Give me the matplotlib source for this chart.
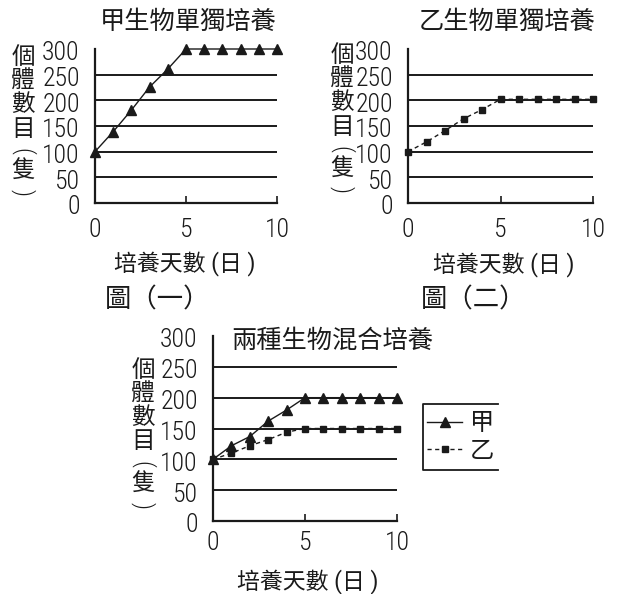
import numpy as np
import matplotlib
matplotlib.use('Agg')
import matplotlib.pyplot as plt
import matplotlib.transforms as mtransforms
from matplotlib.lines import Line2D

plt.rcParams['font.family'] = ['Noto Sans CJK TC', 'DejaVu Sans']

days = [0, 1, 2, 3, 4, 5, 6, 7, 8, 9, 10]
jia_alone = [100, 139, 181, 226, 261, 300, 300, 300, 300, 300, 300]
yi_alone = [100, 119, 141, 164, 182, 202, 202, 202, 202, 202, 202]
jia_mixed = [100, 122, 137, 162, 180, 200, 200, 200, 200, 200, 200]
yi_mixed = [100, 110, 122, 132, 144, 150, 150, 150, 150, 150, 150]

y_ticks = [0, 50, 100, 150, 200, 250, 300]
grid_levels = [50, 100, 150, 200, 250]
x_ticks = [0, 5, 10]

titles = ['甲生物單獨培養', '乙生物單獨培養', '兩種生物混合培養']
fig_labels = ['圖（一）', '圖（二）']
ylabel_chars = ['個', '體', '數', '目', '(', '隻', ')']
xlabel = '培養天數 (日 )'
legend_names = ['甲', '乙']

W, H = 617, 594
INK = '#1a1a1a'
NUM_FONT = ['Roboto Condensed', 'Roboto', 'DejaVu Sans']
MIX_FONT = ['Roboto', 'Noto Sans CJK TC']


def rect(x0, y0, x1, y1):
    return [x0 / W, 1 - y1 / H, (x1 - x0) / W, (y1 - y0) / H]


def fpos(x, y):
    return x / W, 1 - y / H


def style_axes(ax, xpad):
    ax.set_xlim(0, 10)
    ax.set_ylim(0, 300)
    ax.hlines(grid_levels, 0, 10, color=INK, lw=1.4, zorder=1)
    for s in ['top', 'right']:
        ax.spines[s].set_visible(False)
    for s in ['left', 'bottom']:
        ax.spines[s].set_linewidth(1.6)
        ax.spines[s].set_color(INK)
    ax.set_xticks(x_ticks)
    ax.set_yticks(y_ticks)
    ax.tick_params(axis='x', direction='in', length=5, width=1.2, color=INK,
                   labelsize=18.5, pad=xpad, labelcolor=INK,
                   labelfontfamily=NUM_FONT)
    ax.tick_params(axis='y', length=0, labelsize=18.5, pad=11, labelcolor=INK,
                   labelfontfamily=NUM_FONT)
    plt.setp(ax.get_xticklabels() + ax.get_yticklabels(), fontweight='light')
    off = mtransforms.ScaledTranslation(0, -2 / 100, ax.figure.dpi_scale_trans)
    for lab in ax.get_yticklabels():
        lab.set_transform(lab.get_transform() + off)


def plot_jia(ax, vals):
    return ax.plot(days, vals, color=INK, lw=1.0, marker='^', ms=6.5,
                   clip_on=False, zorder=3)[0]


def plot_yi(ax, vals):
    return ax.plot(days, vals, color=INK, lw=1.0, ls=(0, (3, 2.5)), marker='s',
                   ms=4.8, clip_on=False, zorder=3)[0]


def vertical_label(x, y_top):
    steps = [0, 24, 47, 72, 94, 114, 135]
    for ch, dy in zip(ylabel_chars, steps):
        if ch in '()':
            fig.text(*fpos(x, y_top + dy), ch, fontsize=17, ha='center',
                     va='center', rotation=-90, color=INK, family=NUM_FONT,
                     fontweight='light')
        else:
            fig.text(*fpos(x, y_top + dy), ch, fontsize=17, ha='center',
                     va='center', color=INK)


fig = plt.figure(figsize=(W / 100, H / 100), dpi=100)

ax1 = fig.add_axes(rect(95, 49, 277, 203))
style_axes(ax1, 11)
plot_jia(ax1, jia_alone)

ax2 = fig.add_axes(rect(408, 49, 593, 203))
style_axes(ax2, 11)
plot_yi(ax2, yi_alone)

ax3 = fig.add_axes(rect(213, 336, 397, 521))
style_axes(ax3, 7)
h1 = plot_jia(ax3, jia_mixed)
h2 = plot_yi(ax3, yi_mixed)

# titles
fig.text(*fpos(188, 22), titles[0], fontsize=18.2, ha='center', va='center', color=INK)
fig.text(*fpos(507, 22), titles[1], fontsize=18.2, ha='center', va='center', color=INK)
fig.text(*fpos(332, 341), titles[2], fontsize=18.2, ha='center', va='center', color=INK)

# y labels
vertical_label(23, 57)
vertical_label(342, 55)
vertical_label(143, 370)

# x labels
for x, y in [(185, 264), (504, 265), (308, 582)]:
    fig.text(*fpos(x, y), xlabel, fontsize=16.5, ha='center', va='center',
             color=INK, family=MIX_FONT)

# figure captions
fig.text(*fpos(158, 300), fig_labels[0], fontsize=19, ha='center', va='center', color=INK)
fig.text(*fpos(474, 300), fig_labels[1], fontsize=19, ha='center', va='center', color=INK)

# legend (three-sided box, right side cropped)
fig.legend([h1, h2], legend_names, loc='center left',
           bbox_to_anchor=(fpos(427, 437)), frameon=False, fontsize=17.5,
           handlelength=1.45, handletextpad=0.3, labelspacing=0.05,
           borderaxespad=0, borderpad=0, labelcolor=INK)
bx = [498, 423, 423, 498]
by = [404, 404, 470, 470]
fig.add_artist(Line2D([v / W for v in bx], [1 - v / H for v in by],
                      transform=fig.transFigure, color=INK, lw=1.3))

fig.savefig('out.png', dpi=100)
